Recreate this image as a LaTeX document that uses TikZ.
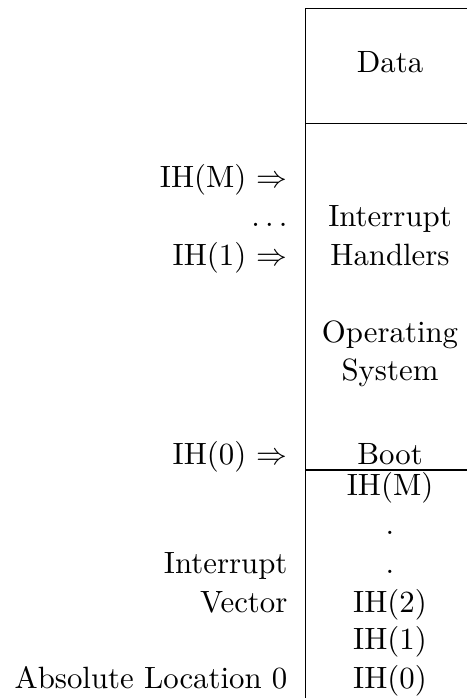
\documentclass[tikz,border=0pt]{standalone}
\begin{document}
\begin{tikzpicture}[font=\normalsize,
  lbl/.style={anchor=base east, inner sep=0pt},
  cell/.style={anchor=base, inner sep=0pt}]
\useasboundingbox (0,0) rectangle (5.328,7.964);
% memory column: left edge and region boundaries
\coordinate (topr) at (5.328,7.870);
\coordinate (topl) at (3.488,7.870);
\coordinate (botl) at (3.488,0);
\draw (topr) -- (topl) -- (botl);
\draw (3.488,6.553) coordinate (datal) -- (5.328,6.553) coordinate (datar);
\draw (3.488,2.601) coordinate (vecl) -- (5.328,2.601) coordinate (vecr);
% region contents
\node[cell] (data) at (4.450,7.131) {Data};
\node[cell] (handl1) at (4.450,5.374) {Interrupt};
\node[cell] (handl2) at (4.450,4.929) {Handlers};
\node[cell] (os1) at (4.450,4.051) {Operating};
\node[cell] (os2) at (4.450,3.628) {System};
\node[cell] (boot) at (4.450,2.659) {Boot};
\foreach \y/\t/\n in {2.316/IH(M)/m, 1.860/./dota, 1.426/./dotb, 0.981/IH(2)/two, 0.548/IH(1)/one, 0.114/IH(0)/zero}
  \node[cell] (vec-\n) at (4.450,\y) {\t};
% pointers and labels on the left
\node[lbl] (ptrm) at (3.286,5.819) {IH(M) $\Rightarrow$};
\node[lbl] (ptrdots) at (3.286,5.374) {$\ldots$};
\node[lbl] (ptrone) at (3.286,4.929) {IH(1) $\Rightarrow$};
\node[lbl] (ptrzero) at (3.286,2.659) {IH(0) $\Rightarrow$};
\node[lbl] (vname1) at (3.286,1.426) {Interrupt};
\node[lbl] (vname2) at (3.286,0.981) {Vector};
\node[lbl] (loczero) at (3.286,0.114) {Absolute Location 0};
\end{tikzpicture}
\end{document}
